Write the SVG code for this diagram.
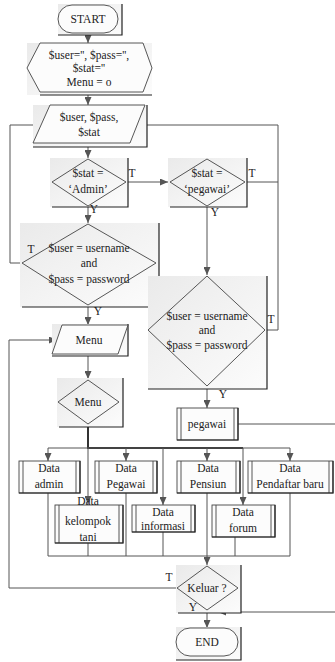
<svg xmlns="http://www.w3.org/2000/svg" width="335" height="662" viewBox="0 0 335 662">
<style>
text{font-family:"Liberation Serif","Times New Roman",serif;font-size:11.5px;fill:#222;text-anchor:middle}
.bg{fill:url(#g);stroke:none}
.sh{fill:none;stroke:#222;stroke-width:1.2}
.s{fill:none;stroke:#444;stroke-width:0.9}
.sw{fill:#fcfcfc;stroke:#444;stroke-width:0.9}
.c{fill:none;stroke:#555;stroke-width:1}
.a{marker-end:url(#ar)}
.thick{fill:none;stroke:#333;stroke-width:2}
</style>
<defs>
<linearGradient id="g" x1="0" y1="0" x2="1" y2="1">
<stop offset="0" stop-color="#eaeaea"/>
<stop offset="1" stop-color="#fcfcfc"/>
</linearGradient>
<marker id="ar" markerUnits="userSpaceOnUse" markerWidth="8" markerHeight="7" refX="8" refY="3.5" orient="auto">
<path d="M0,0 L8,3.5 L0,7 z" fill="#555"/>
</marker>
</defs>
<g id="connectors">
<path class="c a" d="M88,35 V43"/>
<path class="c a" d="M88,95 V105"/>
<path class="c a" d="M88,147 V158"/>
<path class="c a" d="M128,182 H168"/>
<path class="c a" d="M88,207 V223"/>
<path class="c a" d="M22,263 H10 V125 H41"/>
<path class="c" d="M245,182 H278"/>
<path class="c a" d="M265,330 H278 V125 H138"/>
<path class="c a" d="M207,207 V275"/>
<path class="c a" d="M88,307 V325"/>
<path class="c a" d="M207,389 V408"/>
<path class="c" d="M238,424 H335"/>
<path class="c a" d="M335,612 H218"/>
<path class="c a" d="M177,588 H9 V340 H57"/>
<path class="c a" d="M88,356 V379"/>
<path class="thick" d="M88,427 V448 H243"/>
<path class="c" d="M48,448 H290"/>
<path class="c a" d="M48,448 V461"/>
<path class="c a" d="M126,448 V461"/>
<path class="c a" d="M207,448 V461"/>
<path class="c a" d="M290,448 V461"/>
<path class="c a" d="M88,448 V504"/>
<path class="c a" d="M163,448 V505"/>
<path class="c a" d="M243,448 V505"/>
<path class="c" d="M48,493 V556 M88,543 V556 M126,493 V556 M163,532 V556 M235,537 V556 M290,493 V556 M48,556 H290"/>
<path class="c a" d="M207,493 V565"/>
<path class="c a" d="M207,613 V628"/>
</g>
<g id="start">
<rect class="bg" x="58" y="4" width="64" height="31"/>
<path class="sh" d="M122,4 V35 H58"/>
<rect class="sw" x="58" y="5" width="60" height="28" rx="14"/>
<text x="88" y="23">START</text>
</g>
<g id="init">
<rect class="bg" x="27" y="43" width="125" height="52"/>
<path class="sh" d="M40,95 H152"/>
<polygon class="sw" points="27,68 40,43 143,43 152,68 143,92 40,92"/>
<text x="89" y="59">$user='', $pass='',</text>
<text x="89" y="72">$stat=''</text>
<text x="89" y="86">Menu = o</text>
</g>
<g id="input">
<rect class="bg" x="33" y="105" width="114" height="42"/>
<path class="sh" d="M147,105 V147 H33"/>
<polygon class="sw" points="50,105 145,105 130,143 33,143"/>
<text x="89" y="121">$user, $pass,</text>
<text x="89" y="136">$stat</text>
</g>
<g id="cekAdmin">
<rect class="bg" x="50" y="158" width="78" height="49"/>
<path class="sh" d="M128,158 V207 H52"/>
<polygon class="s" points="52,182 88,159 126,182 88,206"/>
<text x="88" y="177">$stat =</text>
<text x="88" y="193">‘Admin’</text>
<text x="132" y="177">T</text>
<text x="94" y="213">Y</text>
</g>
<g id="cekPegawai">
<rect class="bg" x="168" y="158" width="79" height="49"/>
<path class="sh" d="M247,158 V207 H170"/>
<polygon class="s" points="170,182 207,159 245,182 207,206"/>
<text x="207" y="177">$stat =</text>
<text x="207" y="193">‘pegawai’</text>
<text x="252" y="177">T</text>
<text x="215" y="216">Y</text>
</g>
<g id="loginAdmin">
<rect class="bg" x="20" y="223" width="139" height="84"/>
<path class="sh" d="M159,223 V276 M22,307 H148"/>
<polygon class="s" points="22,263 88,224 156,263 88,305"/>
<text x="89" y="252">$user = username</text>
<text x="89" y="267">and</text>
<text x="89" y="283">$pass = password</text>
<text x="31" y="253">T</text>
<text x="98" y="315">Y</text>
</g>
<g id="loginPegawai">
<rect class="bg" x="148" y="276" width="119" height="113"/>
<path class="sh" d="M267,276 V389 H148"/>
<polygon class="s" points="148,330 207,276 265,330 207,386"/>
<text x="207" y="320">$user = username</text>
<text x="207" y="334">and</text>
<text x="207" y="349">$pass = password</text>
<text x="271" y="323">T</text>
<text x="223" y="398">Y</text>
</g>
<g id="menuInput">
<rect class="bg" x="52" y="324" width="77" height="32"/>
<path class="sh" d="M128,324 V356 H52"/>
<polygon class="sw" points="62,325 128,325 118,354 52,354"/>
<text x="89" y="344">Menu</text>
</g>
<g id="menuDecision">
<rect class="bg" x="57" y="378" width="66" height="49"/>
<path class="sh" d="M123,378 V427 H59"/>
<polygon class="s" points="58,402 88,380 119,402 88,424"/>
<text x="88" y="406">Menu</text>
</g>
<g id="pegawai">
<rect class="sw" x="177" y="408" width="61" height="32"/>
<path class="s" d="M181,408 V440 M234,408 V440"/>
<path class="sh" d="M238,408 V440 H177"/>
<text x="207" y="428">pegawai</text>
</g>
<g id="dataAdmin">
<rect class="sw" x="19" y="461" width="61" height="32"/>
<path class="s" d="M23,461 V493 M76,461 V493"/>
<path class="sh" d="M80,461 V493 H19"/>
<text x="49" y="472">Data</text>
<text x="49" y="488">admin</text>
</g>
<g id="dataPegawai">
<rect class="sw" x="95" y="461" width="62" height="32"/>
<path class="s" d="M99,461 V493 M153,461 V493"/>
<path class="sh" d="M157,461 V493 H95"/>
<text x="126" y="472">Data</text>
<text x="126" y="488">Pegawai</text>
</g>
<g id="dataPensiun">
<rect class="sw" x="177" y="461" width="63" height="32"/>
<path class="s" d="M181,461 V493 M236,461 V493"/>
<path class="sh" d="M240,461 V493 H177"/>
<text x="208" y="472">Data</text>
<text x="208" y="488">Pensiun</text>
</g>
<g id="dataPendaftar">
<rect class="sw" x="248" y="461" width="85" height="32"/>
<path class="s" d="M252,461 V493 M329,461 V493"/>
<path class="sh" d="M333,461 V493 H248"/>
<text x="290" y="472">Data</text>
<text x="290" y="488">Pendaftar baru</text>
</g>
<g id="dataKelompok">
<rect class="sw" x="55" y="505" width="68" height="38"/>
<path class="s" d="M59,505 V543 M119,505 V543"/>
<path class="sh" d="M123,505 V543 H55"/>
<text x="88" y="505">Data</text>
<text x="88" y="525">kelompok</text>
<text x="88" y="541">tani</text>
</g>
<g id="dataInformasi">
<rect class="sw" x="132" y="505" width="63" height="27"/>
<path class="s" d="M136,505 V532 M191,505 V532"/>
<path class="sh" d="M195,505 V532 H132"/>
<text x="163" y="516">Data</text>
<text x="163" y="530">informasi</text>
</g>
<g id="dataForum">
<rect class="sw" x="212" y="505" width="63" height="32"/>
<path class="s" d="M216,505 V537 M271,505 V537"/>
<path class="sh" d="M275,505 V537 H212"/>
<text x="243" y="516">Data</text>
<text x="243" y="532">forum</text>
</g>
<g id="keluar">
<rect class="bg" x="176" y="565" width="65" height="48"/>
<path class="sh" d="M241,565 V613 H178"/>
<polygon class="s" points="177,588 207,566 238,588 207,610"/>
<text x="207" y="592">Keluar ?</text>
<text x="169" y="581">T</text>
<text x="193" y="611">Y</text>
</g>
<g id="end">
<rect class="bg" x="176" y="627" width="65" height="33"/>
<path class="sh" d="M241,627 V660 H176"/>
<rect class="sw" x="176" y="628" width="62" height="28" rx="14"/>
<text x="207" y="646">END</text>
</g>
</svg>
